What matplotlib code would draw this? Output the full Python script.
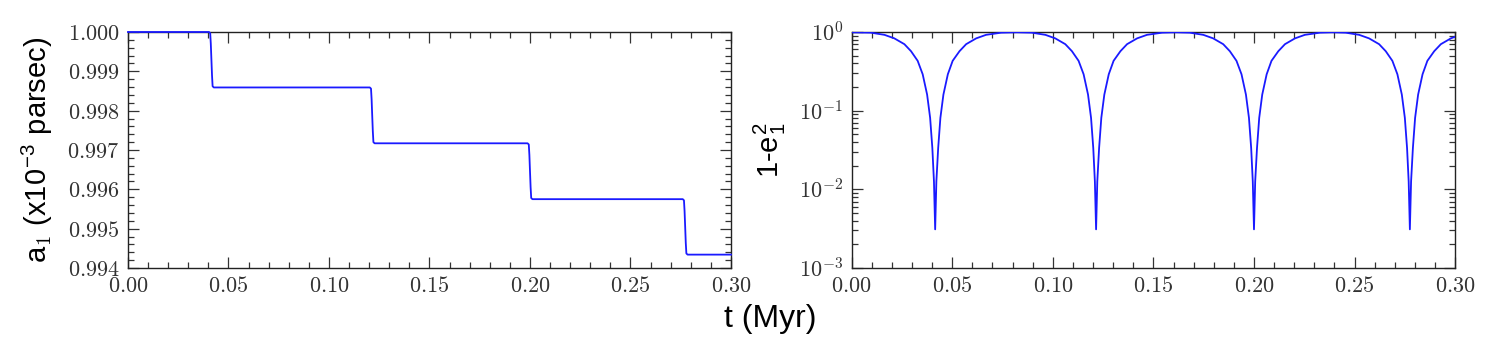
import numpy as np
import matplotlib
matplotlib.use("Agg")
import matplotlib.pyplot as plt
from matplotlib.ticker import MultipleLocator, FuncFormatter, LogLocator, NullFormatter

plt.rcParams['mathtext.fontset'] = 'cm'
plt.rcParams['font.family'] = ['Liberation Sans', 'DejaVu Sans']

# semi-major axis a1 (x1e-3 pc) vs time (Myr)
t_a = [0.0000, 0.0403, 0.0409, 0.0412, 0.0415, 0.0418, 0.0421, 0.0427,
       0.1203, 0.1209, 0.1212, 0.1215, 0.1218, 0.1221, 0.1227,
       0.1988, 0.1994, 0.1997, 0.2000, 0.2003, 0.2006, 0.2012,
       0.2760, 0.2766, 0.2769, 0.2772, 0.2775, 0.2778, 0.2784, 0.3000]
a1 = [1.00000, 1.00000, 0.99997, 0.99970, 0.99930, 0.99890, 0.99862, 0.99859,
      0.99859, 0.99856, 0.99829, 0.99788, 0.99748, 0.99720, 0.99717,
      0.99717, 0.99714, 0.99687, 0.99646, 0.99606, 0.99578, 0.99575,
      0.99575, 0.99572, 0.99545, 0.99505, 0.99464, 0.99437, 0.99434, 0.99434]

# 1 - e1^2 vs time (Myr)
t_e = [0.0000, 0.0096, 0.0163, 0.0212, 0.0262, 0.0295, 0.0328, 0.0353, 0.0375, 0.0390,
       0.0401, 0.0409, 0.0415, 0.0421, 0.0430, 0.0441, 0.0456, 0.0478, 0.0502, 0.0536,
       0.0569, 0.0619, 0.0668, 0.0743, 0.0820,
       0.0896, 0.0963, 0.1012, 0.1062, 0.1095, 0.1128, 0.1153, 0.1175, 0.1190,
       0.1201, 0.1209, 0.1215, 0.1221, 0.1230, 0.1241, 0.1256, 0.1278, 0.1302, 0.1336,
       0.1369, 0.1419, 0.1468, 0.1543, 0.1610,
       0.1681, 0.1748, 0.1797, 0.1847, 0.1880, 0.1913, 0.1938, 0.1960, 0.1975,
       0.1986, 0.1994, 0.2000, 0.2006, 0.2015, 0.2026, 0.2041, 0.2063, 0.2087, 0.2121,
       0.2154, 0.2204, 0.2253, 0.2328, 0.2390,
       0.2456, 0.2523, 0.2572, 0.2622, 0.2655, 0.2688, 0.2713, 0.2735, 0.2750,
       0.2761, 0.2769, 0.2775, 0.2781, 0.2790, 0.2801, 0.2816, 0.2838, 0.2862, 0.2896,
       0.2929, 0.2979, 0.3000]
ome2 = [0.99, 0.98, 0.92, 0.83, 0.70, 0.57, 0.43, 0.29, 0.16, 0.081,
        0.0335, 0.0126, 0.0031, 0.0126, 0.0335, 0.081, 0.16, 0.29, 0.43, 0.57,
        0.70, 0.83, 0.92, 0.98, 0.99,
        0.98, 0.92, 0.83, 0.70, 0.57, 0.43, 0.29, 0.16, 0.081,
        0.0335, 0.0126, 0.0031, 0.0126, 0.0335, 0.081, 0.16, 0.29, 0.43, 0.57,
        0.70, 0.83, 0.92, 0.98, 0.99,
        0.98, 0.92, 0.83, 0.70, 0.57, 0.43, 0.29, 0.16, 0.081,
        0.0335, 0.0126, 0.0031, 0.0126, 0.0335, 0.081, 0.16, 0.29, 0.43, 0.57,
        0.70, 0.83, 0.92, 0.98, 0.99,
        0.98, 0.92, 0.83, 0.70, 0.57, 0.43, 0.29, 0.16, 0.081,
        0.0335, 0.0126, 0.0031, 0.0126, 0.0335, 0.081, 0.16, 0.29, 0.43, 0.57,
        0.70, 0.83, 0.87]

fig = plt.figure(figsize=(14.9, 3.5), dpi=100)
ax1 = fig.add_axes([0.0859, 0.2343, 0.4047, 0.6743])
ax2 = fig.add_axes([0.5716, 0.2343, 0.4050, 0.6743])

line_col = '#1a1aff'
ax1.plot(t_a, a1, color=line_col, lw=1.3, clip_on=False, zorder=3)
ax2.plot(t_e, ome2, color=line_col, lw=1.3, zorder=3)

ax1.set_xlim(0, 0.30)
ax1.set_ylim(0.994, 1.000)
ax2.set_xlim(0, 0.30)
ax2.set_yscale('log')
ax2.set_ylim(1e-3, 1e0)

for ax in (ax1, ax2):
    ax.xaxis.set_major_locator(MultipleLocator(0.05))
    ax.xaxis.set_minor_locator(MultipleLocator(0.01))
    ax.xaxis.set_major_formatter(FuncFormatter(lambda v, p: r'$\mathrm{%.2f}$' % v))
    ax.tick_params(which='both', direction='in', top=True, right=True,
                   colors='#333333', labelcolor='#333333', width=0.9)
    ax.tick_params(which='major', length=8, labelsize=16, pad=6)
    ax.tick_params(which='minor', length=4.5)
    for s in ax.spines.values():
        s.set_linewidth(1.0)
        s.set_color('#222222')

ax1.yaxis.set_major_locator(MultipleLocator(0.001))
ax1.yaxis.set_minor_locator(MultipleLocator(0.0002))
ax1.yaxis.set_major_formatter(FuncFormatter(lambda v, p: r'$\mathrm{%.3f}$' % v))

ax2.yaxis.set_major_locator(LogLocator(base=10, numticks=10))
ax2.yaxis.set_minor_locator(LogLocator(base=10, subs=np.arange(2, 10), numticks=10))
ax2.yaxis.set_minor_formatter(NullFormatter())
ax2.yaxis.set_major_formatter(FuncFormatter(lambda v, p: r'$\mathrm{10^{%d}}$' % int(round(np.log10(v)))))

ax1.set_ylabel(r'a$_\mathrm{1}$ (x10$^\mathregular{-3}$ parsec)', fontsize=21)
ax1.yaxis.set_label_coords(-0.121, 0.5)
ax2.set_ylabel(r'1-e$_\mathregular{1}^\mathregular{2}$', fontsize=21)
ax2.yaxis.set_label_coords(-0.106, 0.5)

fig.text(0.517, 0.089, 't (Myr)', fontsize=23, ha='center', va='center')

plt.savefig('out.png', dpi=100)
